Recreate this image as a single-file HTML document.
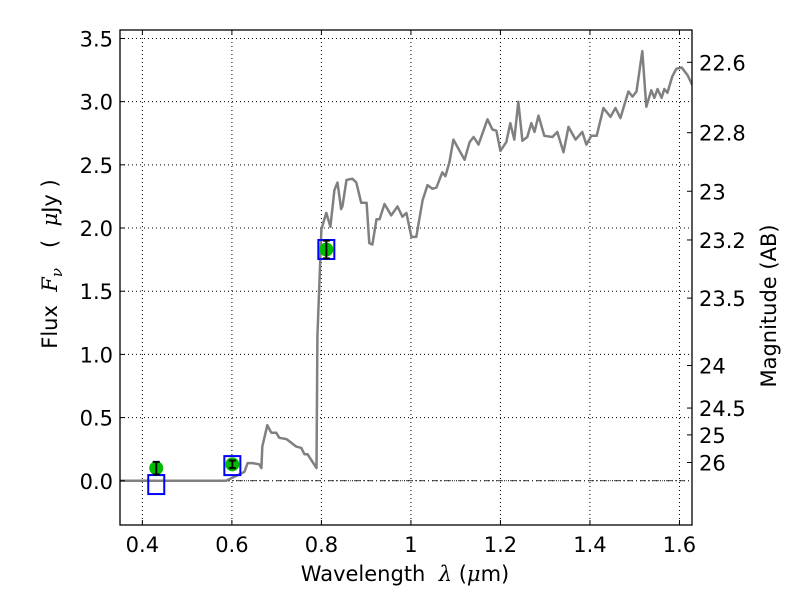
<!DOCTYPE html>
<html><head><meta charset="utf-8"><style>
html,body{margin:0;padding:0;background:#fff;}
svg{display:block;font-family:"DejaVu Sans","Liberation Sans",sans-serif;}
</style></head><body>
<svg id="chart" width="800" height="600" viewBox="0 0 800 600"></svg>
<script>
const xTicks=[0.4,0.6,0.8,1.0,1.2,1.4,1.6];
const xTickLabels=["0.4","0.6","0.8","1","1.2","1.4","1.6"];
const yTicks=[0,0.5,1,1.5,2,2.5,3,3.5];
const yTickLabels=["0.0","0.5","1.0","1.5","2.0","2.5","3.0","3.5"];
const magTicks=[22.6,22.8,23,23.2,23.5,24,24.5,25,26];
const magTickLabels=["22.6","22.8","23","23.2","23.5","24","24.5","25","26"];
const specWl=[0.35,0.587,0.628,0.635,0.646,0.661,0.666,0.668,0.679,0.688,0.699,0.706,0.722,0.733,0.744,0.755,0.762,0.769,0.789,0.791,0.800,0.811,0.820,0.829,0.836,0.844,0.847,0.856,0.869,0.878,0.889,0.901,0.907,0.914,0.923,0.930,0.941,0.956,0.970,0.981,0.990,1.001,1.012,1.026,1.037,1.048,1.057,1.070,1.077,1.086,1.095,1.120,1.131,1.140,1.151,1.171,1.182,1.191,1.200,1.213,1.222,1.231,1.240,1.249,1.260,1.269,1.276,1.285,1.298,1.316,1.327,1.341,1.352,1.368,1.383,1.392,1.403,1.415,1.430,1.446,1.457,1.468,1.486,1.495,1.504,1.517,1.526,1.537,1.544,1.551,1.560,1.566,1.573,1.584,1.593,1.605,1.618,1.629];
const specFlux=[0,0,0.07,0.14,0.14,0.13,0.10,0.27,0.44,0.38,0.38,0.34,0.33,0.30,0.27,0.26,0.21,0.21,0.10,1.14,1.99,2.12,2.01,2.30,2.36,2.15,2.17,2.38,2.39,2.36,2.20,2.20,1.88,1.87,2.07,2.07,2.19,2.10,2.17,2.09,2.12,1.93,1.93,2.22,2.34,2.31,2.32,2.44,2.41,2.52,2.70,2.54,2.68,2.72,2.66,2.86,2.78,2.77,2.61,2.68,2.83,2.70,3.00,2.69,2.72,2.83,2.76,2.89,2.73,2.72,2.76,2.60,2.80,2.70,2.76,2.66,2.73,2.73,2.95,2.88,2.95,2.87,3.08,3.04,3.08,3.40,2.96,3.09,3.03,3.10,3.03,3.10,3.07,3.20,3.26,3.27,3.21,3.13];
const photWl=[0.431,0.601,0.811];
const photFlux=[0.10,0.13,1.83];
const photErr=[0.05,0.03,0.07];
const modelFlux=[-0.03,0.12,1.83];

const L=120,R=692,T=30,B=525;
const X0=0.35,X1=1.628,Y0=-0.35,Y1=3.567;
const sx=v=>L+(v-X0)/(X1-X0)*(R-L);
const sy=v=>B-(v-Y0)/(Y1-Y0)*(B-T);
const NS="http://www.w3.org/2000/svg";
const svg=document.getElementById('chart');
function mk(tag,attrs,parent){const e=document.createElementNS(NS,tag);for(const k in attrs)e.setAttribute(k,attrs[k]);(parent||svg).appendChild(e);return e;}

xTicks.forEach((t,i)=>{
  const g=mk('line',{x1:sx(t),x2:sx(t),y1:T,y2:B,stroke:'#000','stroke-width':1,'stroke-dasharray':'1,3'});
  
  
});
yTicks.forEach((t,i)=>{
  const g=mk('line',{x1:L,x2:R,y1:sy(t),y2:sy(t),stroke:'#000','stroke-width':1,'stroke-dasharray':'1,3'});
  
  
});
const zl=mk('line',{x1:L,x2:R,y1:sy(0),y2:sy(0),stroke:'#000','stroke-width':0.8,'stroke-dasharray':'6,3,1,3'});



let d='';
specWl.forEach((w,i)=>{d+=(i?'L':'M')+sx(w).toFixed(1)+','+sy(specFlux[i]).toFixed(1);});
const cp=mk('clipPath',{id:'clip'});mk('rect',{x:L,y:T,width:R-L,height:B-T},cp);
const sp=mk('path',{d:d,fill:'none',stroke:'#808080','stroke-width':2.5,'clip-path':'url(#clip)','stroke-linejoin':'round'});



photWl.forEach((w,i)=>{
  const b=mk('rect',{x:sx(w)-8,y:sy(modelFlux[i])-9.5,width:16,height:19,fill:'none',stroke:'#0000ff','stroke-width':2});
  
  
});
photWl.forEach((w,i)=>{
  const c=mk('circle',{cx:sx(w),cy:sy(photFlux[i]),r:7,fill:'#00bb00'});
  
  
  const y1=sy(photFlux[i]+photErr[i]),y2=sy(photFlux[i]-photErr[i]),x=sx(w);
  const e=mk('path',{d:`M${x},${y1}L${x},${y2}M${x-3.5},${y1}L${x+3.5},${y1}M${x-3.5},${y2}L${x+3.5},${y2}`,stroke:'#000','stroke-width':2,fill:'none'});
  
  
});

const fr=mk('rect',{x:L,y:T,width:R-L,height:B-T,fill:'none',stroke:'#000','stroke-width':1.3});



xTicks.forEach((t,i)=>{
  mk('line',{x1:sx(t),x2:sx(t),y1:B,y2:B-5,stroke:'#000'});
  mk('line',{x1:sx(t),x2:sx(t),y1:T,y2:T+5,stroke:'#000'});
  const tx=mk('text',{x:sx(t),y:B+27,'text-anchor':'middle','font-size':21});
  tx.textContent=xTickLabels[i];
  
  
});
yTicks.forEach((t,i)=>{
  mk('line',{x1:L,x2:L+5,y1:sy(t),y2:sy(t),stroke:'#000'});
  const tx=mk('text',{x:L-7,y:sy(t)+8,'text-anchor':'end','font-size':21});
  tx.textContent=yTickLabels[i];
  
  
});
magTicks.forEach((m,i)=>{
  const f=Math.pow(10,(23.9-m)/2.5);const y=sy(f);
  mk('line',{x1:R,x2:R-5,y1:y,y2:y,stroke:'#000'});
  const tx=mk('text',{x:R+7,y:y+8,'font-size':21});
  tx.textContent=magTickLabels[i];
  
  
});
</script>
<div style="position:absolute;left:0;top:0;width:800px;height:600px;pointer-events:none;font-family:'DejaVu Sans','Liberation Sans',sans-serif;font-size:21px;">
  <div style="position:absolute;left:405px;top:574px;white-space:nowrap;transform:translate(-50%,-50%);">Wavelength &nbsp;<i style="font-family:'DejaVu Serif','Liberation Serif',serif;">λ</i> (<i style="font-family:'DejaVu Serif','Liberation Serif',serif;">μ</i>m)</div>
  <div style="position:absolute;left:52px;top:264px;white-space:nowrap;transform:translate(-50%,-50%) rotate(-90deg);">Flux &nbsp;<i style="font-family:'DejaVu Serif','Liberation Serif',serif;">F<sub style="font-size:15px">ν</sub></i> &nbsp; ( &nbsp;<i style="font-family:'DejaVu Serif','Liberation Serif',serif;">μ</i>Jy )</div>
  <div style="position:absolute;left:769px;top:306px;white-space:nowrap;transform:translate(-50%,-50%) rotate(-90deg);">Magnitude (AB)</div>
</div>
</body></html>
